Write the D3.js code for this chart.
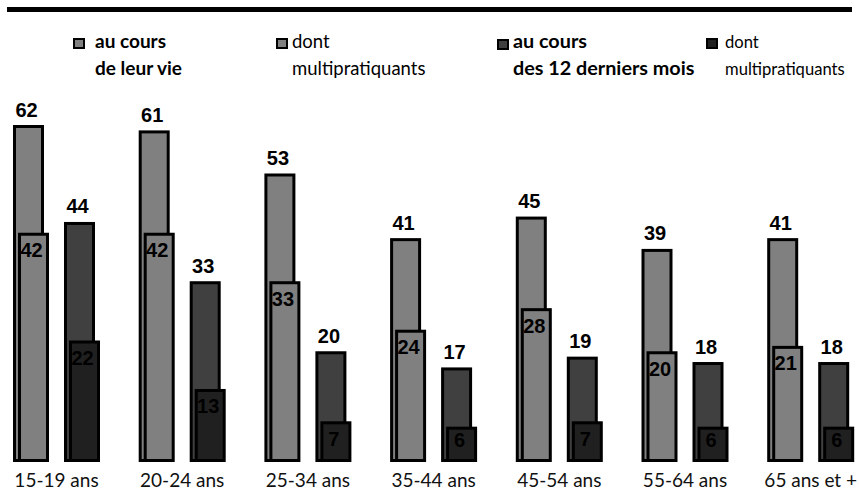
<!DOCTYPE html>
<html>
<head>
<meta charset="utf-8">
<script src="https://cdn.jsdelivr.net/npm/d3@7"></script>
<style>
  html, body { margin: 0; padding: 0; background: #fff; }
  svg { display: block; }
  .num { font-family: "Liberation Sans", Arial, sans-serif; font-weight: bold; font-size: 20px; fill: #000; }
  .lg-b { font-family: Lato, "Liberation Sans", sans-serif; font-weight: bold; fill: #000; }
  .lg-r { font-family: Lato, "Liberation Sans", sans-serif; font-weight: 400; fill: #000; }
  .tick text { font-family: Lato, "Liberation Sans", sans-serif; font-size: 19px; fill: #111; }
</style>
</head>
<body>
<div id="chart"></div>
<script>
// Age groups and shares (%) of people who practised
const ageGroups = ["15-19 ans", "20-24 ans", "25-34 ans", "35-44 ans", "45-54 ans", "55-64 ans", "65 ans et +"];
const lifetime = [62, 61, 53, 41, 45, 39, 41];            // au cours de leur vie
const lifetimeMulti = [42, 42, 33, 24, 28, 20, 21];       // dont multipratiquants
const lastYear = [44, 33, 20, 17, 19, 18, 18];            // au cours des 12 derniers mois
const lastYearMulti = [22, 13, 7, 6, 7, 6, 6];            // dont multipratiquants

const periods = ["vie", "mois"];
const legendItems = [
  { lines: ["au cours", "de leur vie"], bold: true, fill: "#808080" },
  { lines: ["dont", "multipratiquants"], bold: false, fill: "#808080" },
  { lines: ["au cours", "des 12 derniers mois"], bold: true, fill: "#404040" },
  { lines: ["dont", "multipratiquants"], bold: false, fill: "#202020" }
];

const W = 859, H = 495;
const svg = d3.select("#chart").append("svg").attr("width", W).attr("height", H);

// heavy rule along the top
svg.append("rect").attr("x", 7).attr("y", 7).attr("width", 845).attr("height", 5).attr("fill", "#000");

const x0 = d3.scaleBand().domain(ageGroups).range([14.5, 14.5 + 7 * 125.7]).paddingInner(0).paddingOuter(0);
const x1 = d3.scaleBand().domain(periods).range([0, 102]);
const y = d3.scaleLinear().domain([0, 70]).range([460.5, 460.5 - 70 * 5.387]);

const barW = 28, innerShift = 5, sw = 3;

const rows = ageGroups.map((g, i) => ({
  g,
  bars: [
    { p: "vie", total: lifetime[i], multi: lifetimeMulti[i], fill: "#808080", innerFill: "#808080" },
    { p: "mois", total: lastYear[i], multi: lastYearMulti[i], fill: "#404040", innerFill: "#202020" }
  ]
}));

const groups = svg.selectAll("g.grp").data(rows).join("g")
  .attr("class", "grp")
  .attr("transform", d => `translate(${x0(d.g)},0)`);

groups.each(function(d) {
  const gsel = d3.select(this);
  d.bars.forEach(b => {
    const bx = x1(b.p);
    // outer bar: total share
    gsel.append("rect")
      .attr("x", bx).attr("y", y(b.total))
      .attr("width", barW).attr("height", y(0) - y(b.total))
      .attr("fill", b.fill).attr("stroke", "#000").attr("stroke-width", sw);
    gsel.append("text").attr("class", "num")
      .attr("x", bx + barW / 2 - 2).attr("y", y(b.total) - 10)
      .attr("text-anchor", "middle").text(b.total);
    // inner bar: multi-practitioners
    const ix = bx + innerShift;
    gsel.append("rect")
      .attr("x", ix).attr("y", y(b.multi))
      .attr("width", barW).attr("height", y(0) - y(b.multi))
      .attr("fill", b.innerFill);
    const ty = Math.min(y(b.multi) + 23, y(0) - 14);
    gsel.append("text").attr("class", "num")
      .attr("x", ix + barW / 2 - 2).attr("y", ty)
      .attr("text-anchor", "middle").text(b.multi);
    gsel.append("rect")
      .attr("x", ix).attr("y", y(b.multi))
      .attr("width", barW).attr("height", y(0) - y(b.multi))
      .attr("fill", "none").attr("stroke", "#000").attr("stroke-width", sw);
  });
});

// category axis under the groups
const axisScale = d3.scaleBand().domain(ageGroups).range([14.5 + 42, 14.5 + 42 + 7 * 125.7]).padding(0);
const axis = svg.append("g").attr("transform", `translate(${-axisScale.bandwidth() / 2},462)`)
  .call(d3.axisBottom(axisScale).tickSize(0).tickPadding(12));
axis.select(".domain").remove();

// legend
const legendPos = [
  { x: 74, y: 39, tx: 95, size: 19 },
  { x: 277, y: 39, tx: 292, size: 18.5 },
  { x: 498, y: 40, tx: 513, size: 19.8 },
  { x: 707, y: 39, tx: 725, size: 16.6 }
];
const lg = svg.selectAll("g.lg").data(legendItems).join("g").attr("class", "lg");
lg.append("rect")
  .attr("x", (d, i) => legendPos[i].x).attr("y", (d, i) => legendPos[i].y)
  .attr("width", 10).attr("height", 9)
  .attr("fill", d => d.fill).attr("stroke", "#000").attr("stroke-width", 2);
lg.each(function(d, i) {
  const t = d3.select(this).append("text")
    .attr("class", d.bold ? "lg-b" : "lg-r")
    .style("font-size", legendPos[i].size + "px")
    .attr("x", legendPos[i].tx).attr("y", 48);
  d.lines.forEach((l, k) => {
    t.append("tspan").attr("x", legendPos[i].tx).attr("dy", k === 0 ? 0 : 27).text(l);
  });
});
</script>
</body>
</html>
